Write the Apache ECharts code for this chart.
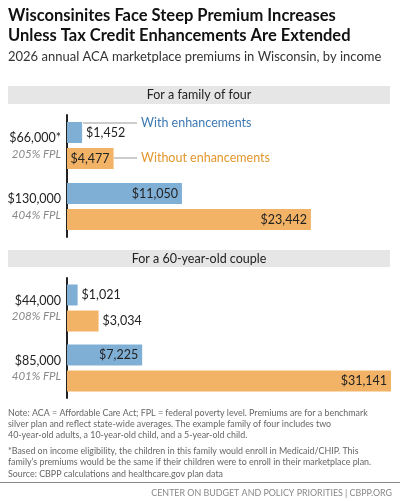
<!DOCTYPE html>
<html><head><meta charset="utf-8">
<script src="https://cdn.jsdelivr.net/npm/echarts@6/dist/echarts.min.js"></script>
<style>html,body{margin:0;padding:0;background:#fff}#c{width:400px;height:501px}</style>
</head><body><div id="c"></div>
<script>
const incomes1 = ['$66,000*', '$130,000'];
const fpl1 = ['205% FPL', '404% FPL'];
const withEnh1 = [1452, 11050];
const withoutEnh1 = [4477, 23442];
const incomes2 = ['$44,000', '$85,000'];
const fpl2 = ['208% FPL', '401% FPL'];
const withEnh2 = [1021, 7225];
const withoutEnh2 = [3034, 31141];

const F = 'Lato, "Open Sans", sans-serif';
const BLUE = '#80afd6', ORANGE = '#f2b366';
const fmt = v => '$' + v.toLocaleString('en-US');

function mkSeries(data, color, gi, insideFrom) {
  return {
    type: 'bar', xAxisIndex: gi, yAxisIndex: gi, barWidth: 21, barGap: '24%',
    itemStyle: { color: color },
    data: data.map(v => ({
      value: v,
      label: v >= insideFrom ? { position: 'insideRight', distance: 4 } : { position: 'right', distance: 4 }
    })),
    label: { show: true, fontFamily: F, fontSize: 12.5, color: '#222', formatter: p => fmt(p.value) },
    silent: true, animation: false
  };
}
function yAx(gi, inc, fpl) {
  return {
    type: 'category', gridIndex: gi, inverse: true, data: inc.map((v, i) => v + '\n' + fpl[i]),
    axisTick: { show: false },
    axisLine: { lineStyle: { color: '#222', width: 2 } },
    axisLabel: {
      margin: 6, align: 'right',
      formatter: v => { const [a, b] = v.split('\n'); return '{a|' + a + '}\n{b|' + b + '}'; },
      rich: {
        a: { fontFamily: F, fontSize: 12.5, color: '#222', align: 'right', lineHeight: 17 },
        b: { fontFamily: F, fontSize: 11.5, color: '#888', fontStyle: 'italic', align: 'right', lineHeight: 15 }
      }
    }
  };
}
function xAx(gi) {
  return { type: 'value', gridIndex: gi, min: 0, max: 31141, show: false };
}
const chart = echarts.init(document.getElementById('c'), null, { renderer: 'canvas' });
chart.setOption({
  animation: false,
  grid: [
    { left: 67, right: 9, top: 115, height: 122 },
    { left: 67, right: 9, top: 278, height: 120 }
  ],
  xAxis: [xAx(0), xAx(1)],
  yAxis: [yAx(0, incomes1, fpl1), yAx(1, incomes2, fpl2)],
  series: [
    mkSeries(withEnh1, BLUE, 0, 5000),
    mkSeries(withoutEnh1, ORANGE, 0, 4000),
    mkSeries(withEnh2, BLUE, 1, 5000),
    mkSeries(withoutEnh2, ORANGE, 1, 5000)
  ],
  graphic: [
    { type: 'text', left: 8, top: 6, style: { text: 'Wisconsinites Face Steep Premium Increases\nUnless Tax Credit Enhancements Are Extended', font: 'bold 16.5px ' + F, fill: '#111', lineHeight: 20 } },
    { type: 'text', left: 8, top: 50, style: { text: '2026 annual ACA marketplace premiums in Wisconsin, by income', font: '13px ' + F, fill: '#333' } },
    { type: 'rect', shape: { x: 8, y: 86, width: 382, height: 18 }, style: { fill: '#e6e6e6' }, z: -1 },
    { type: 'text', x: 199, y: 95, style: { text: 'For a family of four', font: '12.5px ' + F, fill: '#222', align: 'center', verticalAlign: 'middle' } },
    { type: 'rect', shape: { x: 8, y: 250, width: 382, height: 17 }, style: { fill: '#e6e6e6' }, z: -1 },
    { type: 'text', x: 199, y: 258.5, style: { text: 'For a 60-year-old couple', font: '12.5px ' + F, fill: '#222', align: 'center', verticalAlign: 'middle' } },
    { type: 'line', shape: { x1: 83, y1: 123, x2: 137, y2: 123 }, style: { stroke: '#999', lineWidth: 1 } },
    { type: 'text', x: 141, y: 123, style: { text: 'With enhancements', font: '12.5px ' + F, fill: '#3d7ab3', verticalAlign: 'middle' } },
    { type: 'line', shape: { x1: 114, y1: 158, x2: 137, y2: 158 }, style: { stroke: '#999', lineWidth: 1 } },
    { type: 'text', x: 141, y: 158, style: { text: 'Without enhancements', font: '12.5px ' + F, fill: '#e3972f', verticalAlign: 'middle' } },
    { type: 'text', left: 8, top: 408, style: { text: 'Note: ACA = Affordable Care Act; FPL = federal poverty level. Premiums are for a benchmark\nsilver plan and reflect state-wide averages. The example family of four includes two\n40-year-old adults, a 10-year-old child, and a 5-year-old child.', font: '8.9px ' + F, fill: '#666', lineHeight: 11 } },
    { type: 'text', left: 8, top: 446, style: { text: '*Based on income eligibility, the children in this family would enroll in Medicaid/CHIP. This\nfamily\u2019s premiums would be the same if their children were to enroll in their marketplace plan.', font: '8.9px ' + F, fill: '#666', lineHeight: 11 } },
    { type: 'text', left: 8, top: 470, style: { text: 'Source: CBPP calculations and healthcare.gov plan data', font: '8.9px ' + F, fill: '#666' } },
    { type: 'line', shape: { x1: 0, y1: 482.5, x2: 400, y2: 482.5 }, style: { stroke: '#888', lineWidth: 1 } },
    { type: 'text', right: 8, top: 489, style: { text: 'CENTER ON BUDGET AND POLICY PRIORITIES | CBPP.ORG', font: '8.9px ' + F, fill: '#888' } }
  ]
});
</script></body></html>
